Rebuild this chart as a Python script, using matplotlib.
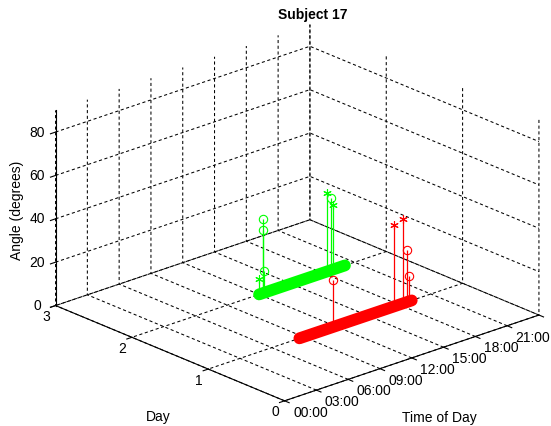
import matplotlib.pyplot as plt

plt.rcParams['font.family'] = ['Liberation Sans', 'DejaVu Sans']
plt.rcParams['grid.color'] = 'k'
plt.rcParams['grid.linewidth'] = 0.75

# activity span of each day (hours)
red_day = 1
red_span = [8.6, 19.2]
green_day = 2
green_span = [12.0, 20.1]

# stems: time of day (h) and angle (deg)
green_o_t = [12.5, 12.4, 12.4, 18.8]
green_o_a = [10.2, 33.9, 29.2, 33.4]
green_s_t = [12.0, 18.4, 19.0]
green_s_a = [7.0, 36.4, 29.9]
red_o_t = [11.8, 18.8, 18.9]
red_o_a = [21.6, 23.8, 11.7]
red_s_t = [17.5, 18.4]
red_s_a = [37.6, 39.0]

time_ticks = [0, 3, 6, 9, 12, 15, 18, 21, 24]
time_labels = ['00:00', '03:00', '06:00', '09:00', '12:00', '15:00', '18:00', '21:00', '']
day_ticks = [0, 1, 2, 3]
angle_ticks = [0, 20, 40, 60, 80]

fig = plt.figure(figsize=(5.51, 4.27), dpi=100)
ax = fig.add_axes([0.029, -0.014, 1, 1], projection='3d', proj_type='ortho')
ax.view_init(elev=22, azim=-132)
ax.set_box_aspect((1, 1, 0.615), zoom=1.2)

green = '#00ff00'
red = '#ff0000'

ax.plot(green_span, [green_day] * 2, [0, 0], color=green, lw=8.5, solid_capstyle='round')
ax.plot(red_span, [red_day] * 2, [0, 0], color=red, lw=8.5, solid_capstyle='round')

def stems(t, a, day, col, mk, ms):
    m, s, b = ax.stem(t, [day] * len(t), a, basefmt=' ')
    s.set_color(col)
    s.set_linewidth(0.9)
    m.set_marker(mk)
    m.set_markersize(ms)
    m.set_markerfacecolor('none')
    m.set_markeredgecolor(col)
    m.set_markeredgewidth(0.8)

stems(green_o_t, green_o_a, green_day, green, 'o', 6)
stems(green_s_t, green_s_a, green_day, green, (6, 2, 0), 6)
stems(red_o_t, red_o_a, red_day, red, 'o', 6)
stems(red_s_t, red_s_a, red_day, red, (6, 2, 0), 6)

ax.set_xlim(0, 24)
ax.set_ylim(0, 3)
ax.set_zlim(0, 90)
ax.set_xticks(time_ticks)
ax.set_xticklabels(time_labels, ha='left', va='center')
ax.set_yticks(day_ticks)
ax.set_yticklabels([str(d) for d in day_ticks], va='center')
ax.set_zticks(angle_ticks)
ax.set_zticklabels([str(a) for a in angle_ticks], va='center')

for axis in (ax.xaxis, ax.yaxis, ax.zaxis):
    axis.set_pane_color((1, 1, 1, 0))
    axis.pane.set_edgecolor('none')
    axis.line.set_color('k')
    axis.line.set_linewidth(0.8)
    axis._axinfo['grid'].update(color='k', linestyle=(0, (3, 2.5)), linewidth=0.75)
    axis._axinfo['tick']['inward_factor'] = 0.25
    axis._axinfo['tick']['outward_factor'] = 0.0

ax.tick_params(labelsize=10, pad=-2)

fig.text(439 / 551, 1 - 418 / 427, 'Time of Day', fontsize=10, ha='center', va='center')
fig.text(158 / 551, 1 - 417 / 427, 'Day', fontsize=10, ha='center', va='center')
fig.text(17 / 551, 1 - 210 / 427, 'Angle (degrees)', fontsize=10, rotation=90,
         ha='center', va='center')
fig.text(313 / 551, 1 - 15.5 / 427, 'Subject 17', fontsize=10, fontweight='bold',
         ha='center', va='center')

fig.savefig('out.png', dpi=100)
